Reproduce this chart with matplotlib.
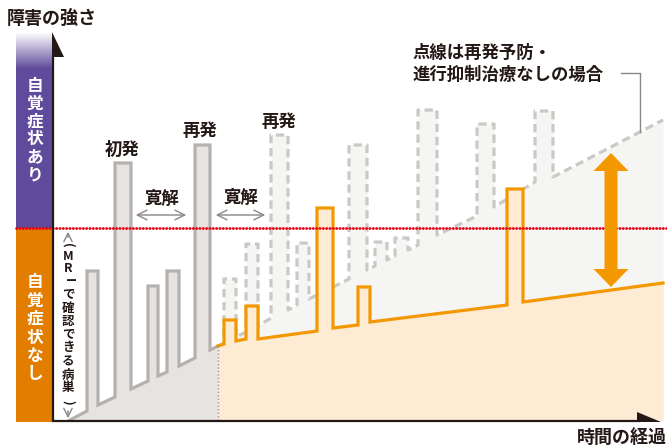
import numpy as np
import matplotlib
matplotlib.use('Agg')
import matplotlib.pyplot as plt
from matplotlib.patches import Polygon

plt.rcParams['font.family'] = ['Noto Sans CJK JP', 'DejaVu Sans']

# --- diagram data (pixel space, y grows downwards) ---
# course before treatment (solid grey)
gray_x = [70, 87, 87, 98, 98, 115, 115, 131, 131, 148, 148, 158, 158, 167, 167,
          179, 179, 195, 195, 210, 210, 218]
gray_y = [420, 411, 271, 271, 405, 397, 163, 163, 389, 381, 286, 286, 376, 372, 271,
          271, 366, 358, 145, 145, 350, 346]

# course without treatment (dashed grey)
dash_x = [218, 224, 224, 236, 236, 246, 246, 258, 258, 271, 271, 288, 288, 297, 297,
          309, 309, 349, 349, 367, 367, 375, 375, 387, 387, 395, 395, 408, 408, 418,
          418, 437, 437, 477, 477, 494, 494, 535, 535, 553, 553, 663]
dash_y = [346, 343, 279, 279, 337, 332, 244, 244, 326, 318, 135, 135, 310, 305, 243,
          243, 299, 279, 145, 145, 270, 266, 242, 242, 260, 256, 238, 238, 250, 245,
          110, 110, 235, 216, 124, 124, 207, 182, 111, 111, 177, 120]

# course with treatment (orange)
tr_x = [218, 224, 224, 236, 236, 246, 246, 258, 258, 317, 317, 333, 333, 358, 358,
        370, 370, 507, 507, 523, 523, 663]
tr_y = [346, 344, 320, 320, 341, 339, 306, 306, 339, 331, 208, 208, 328, 325, 287,
        287, 322, 305, 189, 189, 302, 283]

threshold_y = 228   # symptom threshold
base_y = 420        # x axis

# vertical character labels
upper_label = list('自覚症状あり')
lower_label = list('自覚症状なし')
mri_label = ['(', 'M', 'R', 'I', 'で', '確', '認', 'で', 'き', 'る', '病', '巣', ')']
mri_y = [245, 256, 268, 280, 295, 308, 321, 335, 348, 362, 375, 388, 402]

dark = '#231815'
purple = '#5f4b9b'
orange_dark = '#e27d00'
orange = '#f39800'

fig = plt.figure(figsize=(6.67, 4.47), dpi=100)
ax = fig.add_axes([0, 0, 1, 1])
ax.set_xlim(0, 667)
ax.set_ylim(447, 0)
ax.axis('off')

# left colour band: purple with white fade at top, orange below
top = 32
h = threshold_y - top
grad = np.ones((h, 1, 3))
pc = np.array(matplotlib.colors.to_rgb(purple))
for i in range(h):
    t = min(1.0, i / 36.0)
    grad[i, 0] = (1 - t) * np.ones(3) + t * pc
ax.imshow(grad, extent=[16, 53, threshold_y, top], aspect='auto', zorder=1)
ax.fill_between([16, 53], threshold_y, 422, color=orange_dark, lw=0, zorder=1)

# fills
ax.fill_between(gray_x, gray_y, base_y, color='#e6e3e0', lw=0, zorder=2)
ax.fill_between(dash_x, dash_y, base_y, color='#f5f5f4', lw=0, zorder=2)
ax.plot(gray_x, gray_y, color='#b5b1ae', lw=2.3, zorder=3, solid_joinstyle='miter')
ax.plot(dash_x, dash_y, color='#cbc8c5', lw=2.3, zorder=3, dashes=(2.6, 1.5))
ax.fill_between(tr_x, tr_y, base_y, color='#fdebd4', lw=0, zorder=4)
ax.plot(tr_x, tr_y, color=orange, lw=2.3, zorder=5, solid_joinstyle='miter')

# dotted divider at start of treatment
ax.plot([218, 218], [346, base_y], color='#9a9795', lw=1, ls=(0, (1, 1.5)), zorder=5)

# threshold line
ax.plot([16, 667], [threshold_y, threshold_y], color='#e60012', lw=2,
        ls=(0, (0.1, 1.1)), dash_capstyle='round', zorder=8)

# axes with arrow heads
ax.plot([53, 53], [55, 422], color=dark, lw=1.6, zorder=9, solid_capstyle='butt')
ax.add_patch(Polygon([[52.2, 32], [52.2, 57], [64, 57]], closed=True, color=dark, lw=0, zorder=9))
ax.plot([52.2, 640], [421, 421], color=dark, lw=1.6, zorder=9, solid_capstyle='butt')
ax.add_patch(Polygon([[637, 412], [637, 422.2], [661, 422.2]], closed=True, color=dark, lw=0, zorder=9))

# orange double arrow
cx, a_top, a_bot, hw, hl, sw = 611, 153, 287, 35, 18, 13
arrow = [[cx, a_top], [cx + hw / 2, a_top + hl], [cx + sw / 2, a_top + hl],
         [cx + sw / 2, a_bot - hl], [cx + hw / 2, a_bot - hl], [cx, a_bot],
         [cx - hw / 2, a_bot - hl], [cx - sw / 2, a_bot - hl], [cx - sw / 2, a_top + hl],
         [cx - hw / 2, a_top + hl]]
ax.add_patch(Polygon(arrow, closed=True, color=orange, lw=0, zorder=10))

# remission arrows
for x0, x1 in [(133, 189), (213, 268)]:
    ax.annotate('', xy=(x1, 215), xytext=(x0, 215),
                arrowprops=dict(arrowstyle='<->,head_length=0.7,head_width=0.35',
                                color='#8a8785', lw=1), zorder=10)

# MRI lesion arrows
ax.annotate('', xy=(68, 229), xytext=(68, 240),
            arrowprops=dict(arrowstyle='->,head_length=0.6,head_width=0.3', color='#8a8785', lw=1))
ax.annotate('', xy=(68, 421), xytext=(68, 408),
            arrowprops=dict(arrowstyle='->,head_length=0.6,head_width=0.3', color='#8a8785', lw=1))

# leader line for dashed course
ax.plot([621, 640, 640], [73, 73, 132], color='#8a8785', lw=1, zorder=10)

# texts
tk = dict(color=dark, fontweight='bold')
ax.text(7, 18, '障害の強さ', fontsize=13, ha='left', va='center', **tk)
ax.text(667, 437, '時間の経過', fontsize=13, ha='right', va='center', **tk)
ax.text(122, 150, '初発', fontsize=12.5, ha='center', va='center', **tk)
ax.text(200, 131, '再発', fontsize=12.5, ha='center', va='center', **tk)
ax.text(279, 122, '再発', fontsize=12.5, ha='center', va='center', **tk)
ax.text(162, 199, '寛解', fontsize=12.5, ha='center', va='center', **tk)
ax.text(241, 198, '寛解', fontsize=12.5, ha='center', va='center', **tk)
ax.text(413, 53, '点線は再発予防・', fontsize=12.5, ha='left', va='center', **tk)
ax.text(413, 75, '進行抑制治療なしの場合', fontsize=12.5, ha='left', va='center', **tk)
ax.text(439, 373, '再発予防・進行抑制治療あり', fontsize=10.5, ha='center', va='center', **tk)

for i, ch in enumerate(upper_label):
    ax.text(35, 86 + i * 17.8, ch, fontsize=12, color='white', fontweight='bold',
            ha='center', va='center', zorder=11)
for i, ch in enumerate(lower_label):
    ax.text(35, 282 + i * 18.5, ch, fontsize=12, color='white', fontweight='bold',
            ha='center', va='center', zorder=11)

for ch, yy in zip(mri_label, mri_y):
    rot = -90 if ch in ('(', ')', 'I') else 0
    ax.text(68, yy, ch, fontsize=9, color=dark, fontweight='bold', rotation=rot,
            ha='center', va='center', zorder=11)

fig.savefig('out.png', dpi=100)
